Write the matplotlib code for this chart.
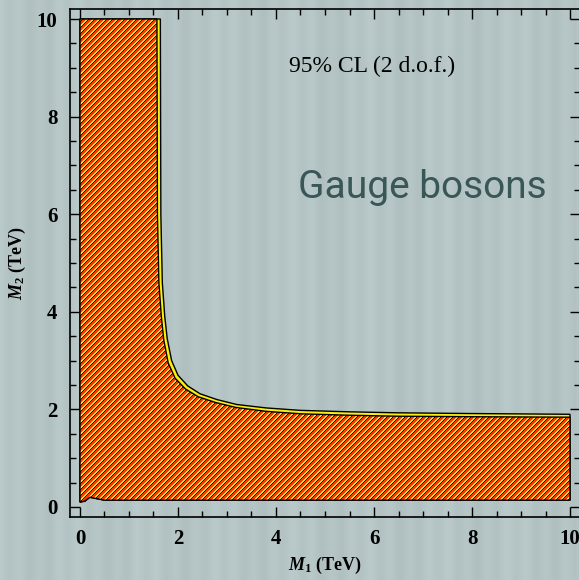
"""Gauge boson exclusion region in the (M1, M2) plane, 95% CL (2 d.o.f.)."""
import numpy as np
import matplotlib
matplotlib.use("Agg")
import matplotlib.pyplot as plt
from matplotlib.patches import Polygon
from matplotlib.colors import to_rgb
from matplotlib.ticker import MultipleLocator

# Outer (yellow) contour (TeV)
outer_m1 = [1.64, 1.65, 1.68, 1.73, 1.78, 1.87, 2.00, 2.20, 2.45, 2.80, 3.20, 3.80, 4.50, 5.50, 6.50, 8.00, 10.0]
outer_m2 = [10.0, 6.00, 4.60, 3.90, 3.45, 3.00, 2.70, 2.48, 2.32, 2.20, 2.10, 2.03, 1.98, 1.95, 1.93, 1.915, 1.90]

# Inner (hatched) contour
inner_m1 = [1.57, 1.58, 1.61, 1.66, 1.71, 1.80, 1.94, 2.15, 2.41, 2.77, 3.18, 3.80, 4.50, 5.50, 6.50, 8.00, 10.0]
inner_m2 = [10.0, 6.00, 4.60, 3.90, 3.42, 2.95, 2.64, 2.42, 2.26, 2.14, 2.04, 1.96, 1.91, 1.88, 1.86, 1.85, 1.84]

# Lower edge of the region (small wiggle near the origin)
bottom_m1 = [10.0, 0.50, 0.35, 0.20, 0.10, 0.0]
bottom_m2 = [0.14, 0.14, 0.17, 0.20, 0.12, 0.10]

BG = "#b5c4c4"
RED = "#f5380a"
YELLOW = "#f8ee10"
TXT = "#3a5757"

plt.rcParams.update({
    "font.family": ["Liberation Serif", "DejaVu Serif"],
    "mathtext.fontset": "custom",
    "mathtext.rm": "Liberation Serif:bold",
    "mathtext.it": "Liberation Serif:italic:bold",
    "mathtext.bf": "Liberation Serif:bold",
})

XLIM = (-0.204, 10.204)
YLIM = (-0.205, 10.205)


def region(m1, m2):
    xs = [0.0, 0.0] + list(m1) + list(bottom_m1)
    ys = [bottom_m2[-1], 10.0] + list(m2) + list(bottom_m2)
    return np.column_stack([xs, ys])


W, H = 579, 580
fig = plt.figure(figsize=(W / 100, H / 100), dpi=100, facecolor=BG)

# faint vertical streaks in the backdrop
cols = np.arange(W)
streak = 0.012 * np.cos(cols / 3.1) + 0.008 * np.cos(cols / 11.7)
bg = np.ones((10, W, 3)) * np.array(to_rgb(BG))
bg = np.clip(bg + streak[None, :, None], 0, 1)
bgax = fig.add_axes([0, 0, 1, 1], zorder=-5)
bgax.imshow(bg, aspect="auto", interpolation="nearest")
bgax.set_axis_off()

# axes box on whole pixels: 510 x 508 px
ax_w, ax_h = 510, 508
ax = fig.add_axes([70 / W, 63 / H, ax_w / W, ax_h / H])
ax.set_facecolor("none")

outer = Polygon(region(outer_m1, outer_m2), closed=True, facecolor=YELLOW,
                edgecolor="black", linewidth=1.0, zorder=2)
ax.add_patch(outer)
inner = Polygon(region(inner_m1, inner_m2), closed=True, facecolor="none",
                edgecolor="none", zorder=3)
ax.add_patch(inner)

# pixel hatch running "/": red, yellow, black
rr, cc = np.mgrid[0:ax_h, 0:ax_w]
stripe_cols = np.array([to_rgb(RED), to_rgb(RED), to_rgb(YELLOW),
                        to_rgb(YELLOW), (0.05, 0.05, 0.0), to_rgb(RED)])
hatch = stripe_cols[(rr + cc) % 6]
im = ax.imshow(hatch, extent=XLIM + YLIM, origin="upper",
               interpolation="nearest", aspect="auto", zorder=4)
im.set_clip_path(inner)

edge = Polygon(region(inner_m1, inner_m2), closed=True, facecolor="none",
               edgecolor="black", linewidth=1.0, zorder=6)
ax.add_patch(edge)
ax.set_xlim(*XLIM)
ax.set_ylim(*YLIM)

ax.xaxis.set_major_locator(MultipleLocator(2))
ax.yaxis.set_major_locator(MultipleLocator(2))
ax.xaxis.set_minor_locator(MultipleLocator(0.5))
ax.yaxis.set_minor_locator(MultipleLocator(0.5))
ax.tick_params(which="both", direction="in", top=True, right=True,
               width=1.0, color="black")
ax.tick_params(which="major", length=7, labelsize=15, pad=9)
ax.tick_params(which="minor", length=4)
for lbl in ax.get_xticklabels() + ax.get_yticklabels():
    lbl.set_fontweight("bold")
for sp in ax.spines.values():
    sp.set_linewidth(1.2)

ax.set_xlabel(r"$M_1$ (TeV)", fontsize=13, fontweight="bold", labelpad=4)
ax.set_ylabel(r"$M_2$ (TeV)", fontsize=13, fontweight="bold", labelpad=6)

ax.text(5.96, 9.02, "95% CL (2 d.o.f.)", fontsize=17, ha="center", va="center",
        zorder=7)
ax.text(6.98, 6.55, "Gauge bosons", fontsize=28, ha="center", va="center",
        color=TXT, family=["Roboto", "DejaVu Sans"], zorder=7)

fig.savefig("out.png", dpi=100, facecolor=BG)
